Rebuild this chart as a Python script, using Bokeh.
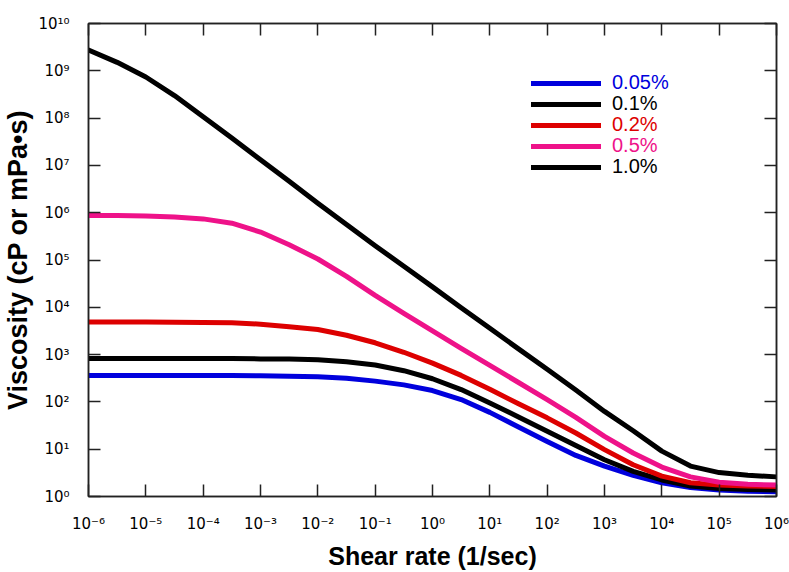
from bokeh.plotting import figure
from bokeh.models import (LogAxis, FixedTicker, CustomJSTickFormatter, Legend,
                          LegendItem, Range1d)
from bokeh.embed import file_html
from bokeh.resources import INLINE

# ---------------- data ----------------
shear_rate = [1e-6, 3.162e-6, 1e-5, 3.162e-5, 1e-4, 3.162e-4, 1e-3, 3.162e-3,
              1e-2, 3.162e-2, 0.1, 0.3162, 1.0, 3.162, 10.0, 31.62, 100.0, 316.2,
              1e3, 3162.0, 1e4, 3.162e4, 1e5, 3.162e5, 1e6]

visc_0_05 = [363, 363, 363, 363, 363, 363, 355, 347, 339, 316, 275, 229, 174,
             112, 60, 29.5, 14.5, 7.4, 4.4, 2.8, 1.95, 1.55, 1.38, 1.29, 1.26]
visc_0_1 = [830, 830, 830, 830, 830, 830, 810, 810, 776, 708, 603, 457, 309,
            182, 95, 48, 24, 12, 6.0, 3.4, 2.24, 1.66, 1.48, 1.41, 1.38]
visc_0_2 = [4900, 4900, 4900, 4850, 4800, 4700, 4400, 3900, 3400, 2570, 1780,
            1120, 660, 363, 186, 91, 46, 22, 9.8, 4.7, 2.7, 1.95, 1.74, 1.66, 1.62]
visc_0_5 = [8.7e5, 8.7e5, 8.5e5, 8.1e5, 7.4e5, 6.0e5, 3.9e5, 2.1e5, 1.05e5,
            4.5e4, 1.78e4, 7.4e3, 3.16e3, 1.35e3, 589, 257, 112, 47, 18.6, 8.3,
            4.2, 2.6, 2.0, 1.82, 1.74]
visc_1_0 = [2.75e9, 1.51e9, 7.4e8, 3.0e8, 1.07e8, 3.8e7, 1.32e7, 4.6e6, 1.58e6,
            5.6e5, 2.0e5, 7.4e4, 2.7e4, 9.8e3, 3.6e3, 1.32e3, 490, 178, 63, 24.5,
            9.1, 4.4, 3.2, 2.8, 2.6]

series_labels = ["0.05%", "0.1%", "0.2%", "0.5%", "1.0%"]
series_values = [visc_0_05, visc_0_1, visc_0_2, visc_0_5, visc_1_0]
series_colors = ["#0000DD", "#000000", "#DD0000", "#EE1289", "#000000"]

x_ticks = [1e-6, 1e-5, 1e-4, 1e-3, 1e-2, 1e-1, 1.0, 1e1, 1e2, 1e3, 1e4, 1e5, 1e6]
y_ticks = [1.0, 1e1, 1e2, 1e3, 1e4, 1e5, 1e6, 1e7, 1e8, 1e9, 1e10]

FONT = "Liberation Sans"
TICK_FONT = "DejaVu Sans"

# ---------------- figure ----------------
W, H = 789, 572
B_LEFT, B_RIGHT, B_TOP, B_BOTTOM = 87, 13, 23, 74

p = figure(width=W, height=H, x_axis_type="log", y_axis_type="log",
           x_range=Range1d(1e-6, 1e6), y_range=Range1d(1.0, 1e10),
           output_backend="svg", toolbar_location=None,
           min_border_left=B_LEFT, min_border_right=B_RIGHT,
           min_border_top=B_TOP, min_border_bottom=B_BOTTOM,
           x_axis_label="Shear rate (1/sec)",
           y_axis_label="Viscosity (cP or mPa\u2022s)")
p.xgrid.visible = False
p.ygrid.visible = False
p.outline_line_color = "#222222"
p.outline_line_width = 1.5
p.background_fill_color = "white"
p.border_fill_color = "white"

sup_js = """
const sup = {'-':'\\u207b','0':'\\u2070','1':'\\u00b9','2':'\\u00b2','3':'\\u00b3',
             '4':'\\u2074','5':'\\u2075','6':'\\u2076','7':'\\u2077','8':'\\u2078','9':'\\u2079'};
const e = Math.round(Math.log10(tick));
return '10' + String(e).split('').map(c => sup[c]).join('');
"""

def style_axis(ax, ticks, show_labels=True):
    ax.ticker = FixedTicker(ticks=ticks, minor_ticks=[])
    ax.major_tick_in = 12
    ax.major_tick_out = 0
    ax.major_tick_line_width = 1.5
    ax.major_tick_line_color = "#222222"
    ax.minor_tick_line_color = None
    ax.axis_line_color = "#222222"
    ax.axis_line_width = 1.5
    if show_labels:
        ax.formatter = CustomJSTickFormatter(code=sup_js)
        ax.major_label_text_font = TICK_FONT
        ax.major_label_text_font_size = "15px"
        ax.major_label_text_color = "black"
        ax.axis_label_text_font = FONT
        ax.axis_label_text_font_style = "bold"
        ax.axis_label_text_color = "black"
    else:
        ax.formatter = CustomJSTickFormatter(code="return ' ';")
        ax.major_label_text_font_size = "2px"
        ax.major_label_standoff = 0

xa = p.xaxis[0]
ya = p.yaxis[0]
style_axis(xa, x_ticks)
style_axis(ya, y_ticks)
xa.axis_label_text_font_size = "25px"
ya.axis_label_text_font_size = "27px"
xa.major_label_standoff = 18
xa.axis_label_standoff = 6
ya.major_label_standoff = 19
ya.axis_label_standoff = 2

top_ax = LogAxis()
style_axis(top_ax, x_ticks, show_labels=False)
right_ax = LogAxis()
style_axis(right_ax, y_ticks, show_labels=False)
p.add_layout(top_ax, "above")
p.add_layout(right_ax, "right")

renderers = []
for vals, col in zip(series_values, series_colors):
    r = p.line(shear_rate, vals, line_color=col, line_width=5,
               line_join="round", line_cap="round")
    renderers.append(r)

# one legend per entry so each label can carry its series colour
row_centers = [82, 103, 124, 145, 166]   # screen rows of legend entries
for lab, col, r, cy in zip(series_labels, series_colors, renderers, row_centers):
    top = cy - 10
    lg = Legend(items=[LegendItem(label=lab, renderers=[r])],
                location=(530 - B_LEFT, (H - B_BOTTOM) - top - 24),
                padding=0, margin=0, spacing=0,
                glyph_width=70, glyph_height=20, label_height=20,
                label_standoff=11,
                label_text_font=FONT, label_text_font_size="20px",
                label_text_color=col,
                border_line_color=None, background_fill_alpha=0)
    p.add_layout(lg)

open("out.html", "w").write(file_html(p, INLINE))
